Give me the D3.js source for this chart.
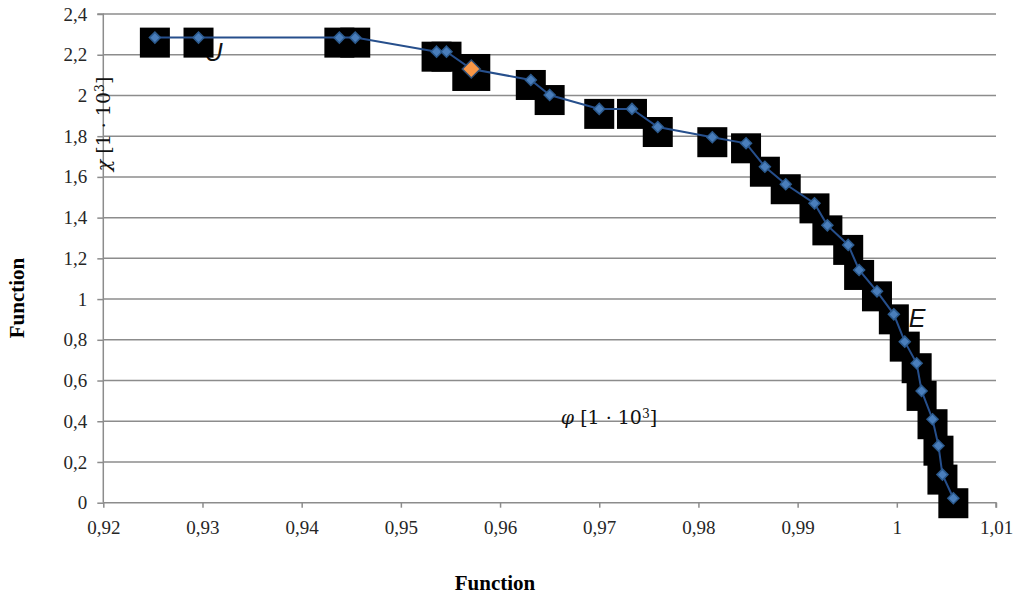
<!DOCTYPE html>
<html>
<head>
<meta charset="utf-8">
<script src="https://cdn.jsdelivr.net/npm/d3@7"></script>
<style>
  html, body { margin: 0; padding: 0; background: #fff; }
  svg { display: block; }
</style>
</head>
<body>
<svg id="chart" width="1017" height="601"></svg>
<script>
// ---- data ----
const phiValues = [0.9252, 0.9296, 0.9438, 0.9454, 0.9536, 0.9546, 0.9571, 0.9631, 0.9650, 0.9700,
                   0.9733, 0.9759, 0.9814, 0.9848, 0.9867, 0.9888, 0.9917, 0.9930, 0.9951, 0.9962,
                   0.9980, 0.9997, 1.0008, 1.0020, 1.0025, 1.0036, 1.0042, 1.0046, 1.0057];
const chiValues = [2.284, 2.284, 2.284, 2.284, 2.215, 2.215, 2.130, 2.076, 2.002, 1.934,
                   1.934, 1.845, 1.795, 1.765, 1.650, 1.564, 1.470, 1.362, 1.266, 1.143,
                   1.038, 0.925, 0.791, 0.685, 0.549, 0.410, 0.280, 0.138, 0.022];
const highlightIndex = [6];
const xTicks = [0.92, 0.93, 0.94, 0.95, 0.96, 0.97, 0.98, 0.99, 1.00, 1.01];
const yTicks = [0, 0.2, 0.4, 0.6, 0.8, 1.0, 1.2, 1.4, 1.6, 1.8, 2.0, 2.2, 2.4];
const xTitle = "Function";
const yTitle = "Function";
const chiLabel = ["χ", " [1 · 10", "3", "]"];
const phiLabel = ["φ", " [1 · 10", "3", "]"];
const pointLabels = [{text: "U", x: 0.9302, y: 2.17}, {text: "E", x: 1.0012, y: 0.865}];

const points = phiValues.map((v, i) => ({x: v, y: chiValues[i], hi: highlightIndex.includes(i)}));

// ---- layout ----
(function draw() {
const svg = d3.select("#chart");
const pL = 103.3, pR = 996, pT = 14, pB = 502.7;
const x = d3.scaleLinear().domain([0.92, 1.01]).range([pL, pR]);
const y = d3.scaleLinear().domain([0, 2.4]).range([pB, pT]);
const fmt = d => String(+d.toFixed(2)).replace(".", ",");
const tickFont = "'Liberation Serif', 'Times New Roman', serif";

// gridlines
svg.append("g").selectAll("line").data(yTicks.filter(d => d > 0)).join("line")
  .attr("x1", pL).attr("x2", pR)
  .attr("y1", d => y(d)).attr("y2", d => y(d))
  .attr("stroke", "#8c8c8c").attr("stroke-width", 1.5);

// y axis
const yAxis = svg.append("g").attr("transform", `translate(${pL},0)`)
  .call(d3.axisLeft(y).tickValues(yTicks).tickFormat(fmt).tickSize(6).tickPadding(10));
yAxis.attr("font-family", tickFont).attr("font-size", 19);
yAxis.select(".domain").attr("stroke", "#8c8c8c").attr("stroke-width", 1.5).attr("d", `M-6,${pT}H0V${pB}`);
yAxis.selectAll(".tick line").attr("stroke", "#8c8c8c").attr("stroke-width", 1.5);
yAxis.selectAll(".tick text").attr("fill", "#262626");

// x axis
const xAxis = svg.append("g").attr("transform", `translate(0,${pB})`)
  .call(d3.axisBottom(x).tickValues(xTicks).tickFormat(fmt).tickSize(5).tickPadding(13));
xAxis.attr("font-family", tickFont).attr("font-size", 19);
xAxis.select(".domain").attr("stroke", "#8c8c8c").attr("stroke-width", 1.5).attr("d", `M${pL},0H${pR}V5`);
xAxis.selectAll(".tick line").attr("stroke", "#8c8c8c").attr("stroke-width", 1.5);
xAxis.selectAll(".tick text").attr("fill", "#262626");

// axis titles
svg.append("text").attr("x", 495).attr("y", 590).attr("text-anchor", "middle")
  .attr("font-family", tickFont).attr("font-weight", "bold").attr("font-size", 21).attr("fill", "#000")
  .text(xTitle);
svg.append("text").attr("transform", "translate(24,298) rotate(-90)").attr("text-anchor", "middle")
  .attr("font-family", tickFont).attr("font-weight", "bold").attr("font-size", 21).attr("fill", "#000")
  .text(yTitle);

// annotation labels
const mathFont = "'DejaVu Serif', serif";
function mathText(sel, parts) {
  sel.append("tspan").attr("font-style", "italic").text(parts[0]);
  sel.append("tspan").text(parts[1]);
  sel.append("tspan").attr("font-size", "0.65em").attr("dy", "-0.5em").text(parts[2]);
  sel.append("tspan").attr("dy", "0.33em").text(parts[3]);
}
const chiT = svg.append("text").attr("transform", "translate(110,124) rotate(-90)").attr("text-anchor", "middle")
  .attr("font-family", mathFont).attr("font-size", 19).attr("fill", "#111");
mathText(chiT, chiLabel);
const phiT = svg.append("text").attr("x", 609).attr("y", 424).attr("text-anchor", "middle")
  .attr("font-family", mathFont).attr("font-size", 19).attr("fill", "#111");
mathText(phiT, phiLabel);
svg.append("g").selectAll("text").data(pointLabels).join("text")
  .attr("x", d => x(d.x)).attr("y", d => y(d.y))
  .attr("font-family", "'Liberation Sans', Arial, sans-serif").attr("font-style", "italic")
  .attr("font-size", 25).attr("fill", "#111").text(d => d.text);

// black label boxes
svg.append("g").selectAll("rect").data(points).join("rect")
  .attr("x", d => x(d.x) - (d.hi ? 19 : 15))
  .attr("y", d => y(d.y) - (d.hi ? 15 : 10))
  .attr("width", d => d.hi ? 38 : 30)
  .attr("height", d => d.hi ? 37 : 30)
  .attr("fill", "#000");

// line
svg.append("path").datum(points)
  .attr("d", d3.line().x(d => x(d.x)).y(d => y(d.y)))
  .attr("fill", "none").attr("stroke", "#264f8c").attr("stroke-width", 2);

// markers
const diamond = r => `M0,${-r}L${r},0L0,${r}L${-r},0Z`;
svg.append("g").selectAll("path").data(points).join("path")
  .attr("transform", d => `translate(${x(d.x)},${y(d.y)})`)
  .attr("d", d => diamond(d.hi ? 9 : 5.5))
  .attr("fill", d => d.hi ? "#f79646" : "#4a7ebb")
  .attr("stroke", d => d.hi ? "#2c4d75" : "#2c5b8f")
  .attr("stroke-width", 1.5);
})();
</script>
</body>
</html>
